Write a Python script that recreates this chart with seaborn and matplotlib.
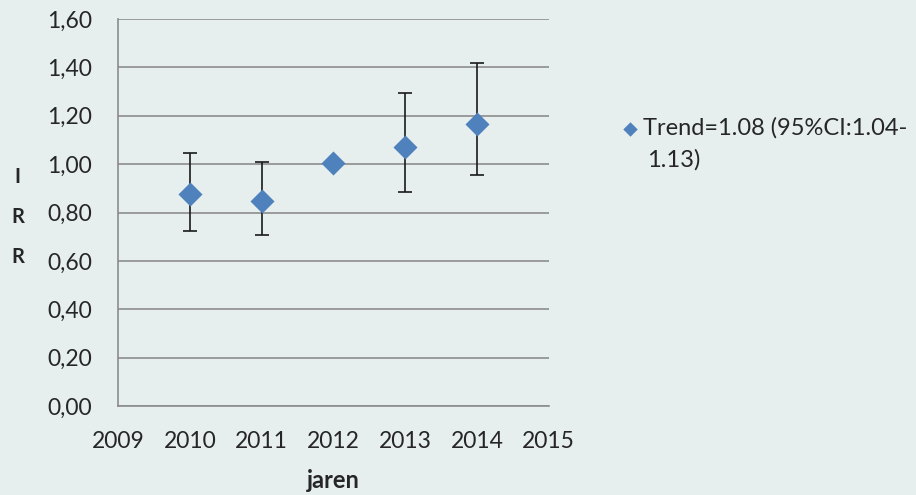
import numpy as np
import pandas as pd
import seaborn as sns
import matplotlib.pyplot as plt

# values
years = [2010, 2011, 2012, 2013, 2014]
irr = [0.875, 0.848, 1.003, 1.071, 1.166]
ci_low = [0.725, 0.708, 1.003, 0.884, 0.953]
ci_high = [1.047, 1.010, 1.003, 1.296, 1.419]
legend_line1 = "Trend=1.08 (95%CI:1.04-"
legend_line2 = "1.13)"
y_ticks = [0.0, 0.2, 0.4, 0.6, 0.8, 1.0, 1.2, 1.4, 1.6]
x_ticks = [2009, 2010, 2011, 2012, 2013, 2014, 2015]

df = pd.DataFrame({"jaren": years, "IRR": irr, "low": ci_low, "high": ci_high})

bg = "#E6EEEE"
blue = "#4F81BD"
grid = "#8C8C8C"
txt = "#262626"

sns.set_theme(style="white")
plt.rcParams['font.family'] = ['Lato', 'DejaVu Sans']

fig = plt.figure(figsize=(9.16, 4.95), dpi=100, facecolor=bg)
ax = fig.add_axes([0.1288, 0.1798, 0.599 - 0.1288, 0.9616 - 0.1798])
ax.set_facecolor(bg)

# error bars only where CI exists
has_ci = df[df["high"] > df["low"]]
ax.errorbar(has_ci["jaren"], has_ci["IRR"],
            yerr=[has_ci["IRR"] - has_ci["low"], has_ci["high"] - has_ci["IRR"]],
            fmt='none', ecolor="#1a1a1a", elinewidth=1.2, capsize=5, capthick=1.2, zorder=2)

sns.scatterplot(data=df, x="jaren", y="IRR", marker="D", s=150, color=blue,
                edgecolor=blue, linewidth=0, ax=ax, zorder=3, label=legend_line1)

ax.set_xlim(2009, 2015)
ax.set_ylim(0, 1.6)
ax.set_xticks(x_ticks)
ax.set_yticks(y_ticks)
ax.set_yticklabels([f"{v:.2f}".replace(".", ",") for v in y_ticks])
ax.set_xticklabels([str(v) for v in x_ticks])

ax.yaxis.grid(True, color=grid, linewidth=1.2)
ax.set_axisbelow(True)
for s in ["top", "right"]:
    ax.spines[s].set_visible(False)
for s in ["left", "bottom"]:
    ax.spines[s].set_color(grid)
    ax.spines[s].set_linewidth(1.2)

ax.tick_params(axis="both", which="major", direction="out", length=7, width=1.2,
               color=grid, labelsize=16.5, labelcolor=txt)
ax.tick_params(axis="y", pad=11.5)
ax.tick_params(axis="x", pad=11)

ax.set_xlabel("jaren", fontsize=17, fontweight="bold", color=txt, labelpad=12)
ax.set_ylabel("")
fig.text(0.019, 1 - 217 / 495, "I\nR\nR", fontsize=14.5, fontweight="bold", color=txt,
         ha="center", va="center", linespacing=2.25)

leg = ax.legend(loc="center left", bbox_to_anchor=(0.675, 1 - 128 / 495), bbox_transform=fig.transFigure,
                frameon=False, fontsize=17, handletextpad=0.05, handlelength=1.0,
                markerscale=0.6, labelcolor=txt, borderpad=0, borderaxespad=0)
fig.text(647 / 916, 1 - 160 / 495, legend_line2, fontsize=17, color=txt, ha="left", va="center")

fig.savefig("out.png", dpi=100, facecolor=bg)
